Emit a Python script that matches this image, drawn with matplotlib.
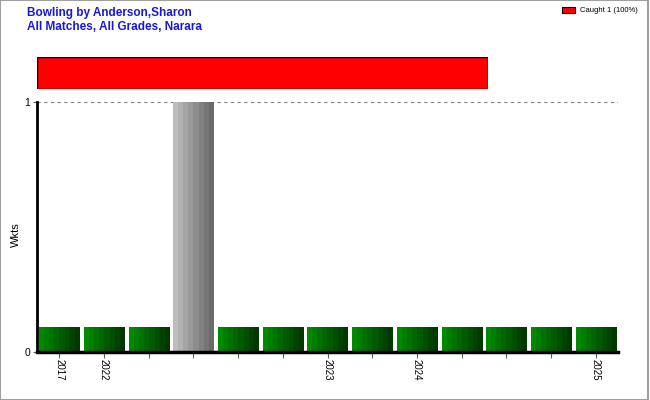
import matplotlib

matplotlib.use("Agg")
import matplotlib.pyplot as plt
import numpy as np
from matplotlib.colors import LinearSegmentedColormap
from matplotlib.patches import Rectangle

plt.rcParams["font.family"] = ["Liberation Sans", "DejaVu Sans"]

# one entry per match; tick labels show the season where it changes
season_labels = ["2017", "2022", "", "", "", "", "2023", "", "2024", "", "", "", "2025"]
wickets = [0, 0, 0, 1, 0, 0, 0, 0, 0, 0, 0, 0, 0]
zero_marker = 0.1  # zero-wicket matches drawn as a short green stub

dismissal_types = ["Caught"]
dismissal_counts = [1]

GREEN = LinearSegmentedColormap.from_list("g", ["#008a00", "#003800"])
GREY = LinearSegmentedColormap.from_list("k", ["#bdbdbd", "#6a6a6a"])


def _gradient_bar(ax, patch, cmap):
    x0, y0 = patch.get_x(), patch.get_y()
    w, h = patch.get_width(), patch.get_height()
    grad = np.linspace(0, 1, 8).reshape(1, -1)
    im = ax.imshow(grad, cmap=cmap, aspect="auto", extent=(x0, x0 + w, y0, y0 + h),
                   interpolation="nearest", zorder=2)
    im.set_clip_path(patch)


fig = plt.figure(figsize=(6.5, 4), dpi=100)
fig.patches.append(Rectangle((0, 0), 0.997, 1, transform=fig.transFigure, fill=False,
                             edgecolor="#a0a0a0", linewidth=1.5))

fig.text(0.042, 0.967, "Bowling by Anderson,Sharon", color="#1a1acc", fontsize=8.5,
         fontweight="bold", va="center")
fig.text(0.042, 0.933, "All Matches, All Grades, Narara", color="#1a1acc", fontsize=8.5,
         fontweight="bold", va="center")

# legend
fig.patches.append(Rectangle((0.865, 0.968), 0.02, 0.014, transform=fig.transFigure,
                             facecolor="red", edgecolor="black", linewidth=0.8))
fig.text(0.892, 0.975, f"{dismissal_types[0]} {dismissal_counts[0]} (100%)", fontsize=5.5,
         va="center")

# dismissal summary bar
ax_top = fig.add_axes([0.0569, 0.778, 0.694, 0.08])
ax_top.barh([0], dismissal_counts, height=1, color="red", edgecolor="black", linewidth=1)
ax_top.set_xlim(0, sum(dismissal_counts))
ax_top.set_ylim(-0.5, 0.5)
ax_top.axis("off")

ax = fig.add_axes([0.0569, 0.12, 0.894, 0.625])
x = np.arange(len(wickets))
heights = [w if w > 0 else zero_marker for w in wickets]
bars = ax.bar(x, heights, width=0.9, color="none", edgecolor="none", zorder=2)
for b, w in zip(bars, wickets):
    _gradient_bar(ax, b, GREY if w > 0 else GREEN)

ax.set_xlim(-0.5, len(wickets) - 0.5)
ax.set_ylim(0, 1)
ax.axhline(1, color="#808080", linestyle=(0, (3, 3)), linewidth=0.8, zorder=1)

ax.set_xticks(x)
ax.set_xticklabels(season_labels, rotation=-90, fontsize=7)
ax.set_yticks([0, 1])
ax.set_yticklabels(["0", "1"], fontsize=7.5)
ax.tick_params(axis="x", length=4, color="#606060", pad=1)
ax.tick_params(axis="y", length=3, color="#606060", pad=2)
ax.set_ylabel("Wkts", fontsize=8)
ax.yaxis.set_label_coords(-0.028, 0.47)

for s in ("top", "right"):
    ax.spines[s].set_visible(False)
ax.spines["left"].set_linewidth(2)
ax.spines["bottom"].set_linewidth(2.5)

fig.savefig("out.png", dpi=100)
